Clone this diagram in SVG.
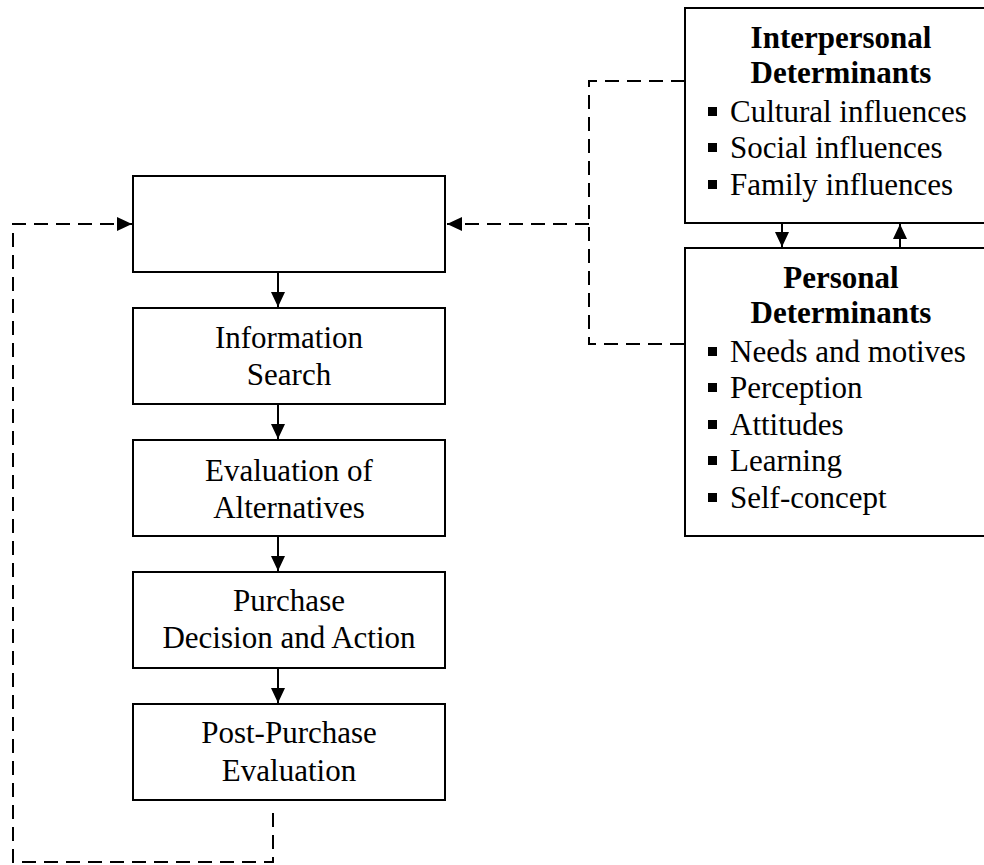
<svg xmlns="http://www.w3.org/2000/svg" width="984" height="865" viewBox="0 0 984 865">
<style>
.box{fill:#fff;stroke:#000;stroke-width:2}
.t{font-family:"Liberation Serif","Times New Roman",serif;font-size:31px;fill:#000}
.c{text-anchor:middle}
.b{font-weight:bold}
.sol{fill:none;stroke:#000;stroke-width:2}
.dash{fill:none;stroke:#000;stroke-width:2;stroke-dasharray:14 8}
.blt{fill:#000}
</style>
<defs>
<marker id="ah" markerUnits="userSpaceOnUse" markerWidth="16" markerHeight="16" viewBox="0 0 16 16" refX="15" refY="8" orient="auto">
<path d="M0,1 L15,8 L0,15 Z" fill="#000"/>
</marker>
</defs>
<rect width="984" height="865" fill="#fff"/>
<g id="connectors">
<line class="sol" x1="278" y1="272" x2="278" y2="307" marker-end="url(#ah)"/>
<line class="sol" x1="278" y1="404" x2="278" y2="439" marker-end="url(#ah)"/>
<line class="sol" x1="278" y1="536" x2="278" y2="571" marker-end="url(#ah)"/>
<line class="sol" x1="278" y1="668" x2="278" y2="703" marker-end="url(#ah)"/>
<line class="sol" x1="782" y1="223" x2="782" y2="247" marker-end="url(#ah)"/>
<line class="sol" x1="900" y1="248" x2="900" y2="224" marker-end="url(#ah)"/>
<path class="dash" d="M685,81 H589 V344 H685"/>
<line class="dash" x1="589" y1="224" x2="447" y2="224" marker-end="url(#ah)"/>
<path class="dash" d="M273,813 V862 H13 V224 H132" marker-end="url(#ah)"/>
</g>
<g id="problem">
<rect class="box" x="133" y="176" width="312" height="96"/>
</g>
<g id="info">
<rect class="box" x="133" y="308" width="312" height="96"/>
<text class="t c" x="289" y="348">Information</text>
<text class="t c" x="289" y="385">Search</text>
</g>
<g id="eval">
<rect class="box" x="133" y="440" width="312" height="96"/>
<text class="t c" x="289" y="481">Evaluation of</text>
<text class="t c" x="289" y="518">Alternatives</text>
</g>
<g id="purchase">
<rect class="box" x="133" y="572" width="312" height="96"/>
<text class="t c" x="289" y="611">Purchase</text>
<text class="t c" x="289" y="648">Decision and Action</text>
</g>
<g id="post">
<rect class="box" x="133" y="704" width="312" height="96"/>
<text class="t c" x="289" y="743">Post-Purchase</text>
<text class="t c" x="289" y="781">Evaluation</text>
</g>
<g id="interpersonal">
<rect class="box" x="685" y="8" width="312" height="215"/>
<text class="t c b" x="841" y="48">Interpersonal</text>
<text class="t c b" x="841" y="83">Determinants</text>
<rect class="blt" x="708" y="107" width="9" height="9"/>
<text class="t" x="730" y="122">Cultural influences</text>
<rect class="blt" x="708" y="143" width="9" height="9"/>
<text class="t" x="730" y="158">Social influences</text>
<rect class="blt" x="708" y="180" width="9" height="9"/>
<text class="t" x="730" y="195">Family influences</text>
</g>
<g id="personal">
<rect class="box" x="685" y="248" width="312" height="288"/>
<text class="t c b" x="841" y="288">Personal</text>
<text class="t c b" x="841" y="323">Determinants</text>
<rect class="blt" x="708" y="347" width="9" height="9"/>
<text class="t" x="730" y="362">Needs and motives</text>
<rect class="blt" x="708" y="383" width="9" height="9"/>
<text class="t" x="730" y="398">Perception</text>
<rect class="blt" x="708" y="420" width="9" height="9"/>
<text class="t" x="730" y="435">Attitudes</text>
<rect class="blt" x="708" y="456" width="9" height="9"/>
<text class="t" x="730" y="471">Learning</text>
<rect class="blt" x="708" y="493" width="9" height="9"/>
<text class="t" x="730" y="508">Self-concept</text>
</g>
</svg>
